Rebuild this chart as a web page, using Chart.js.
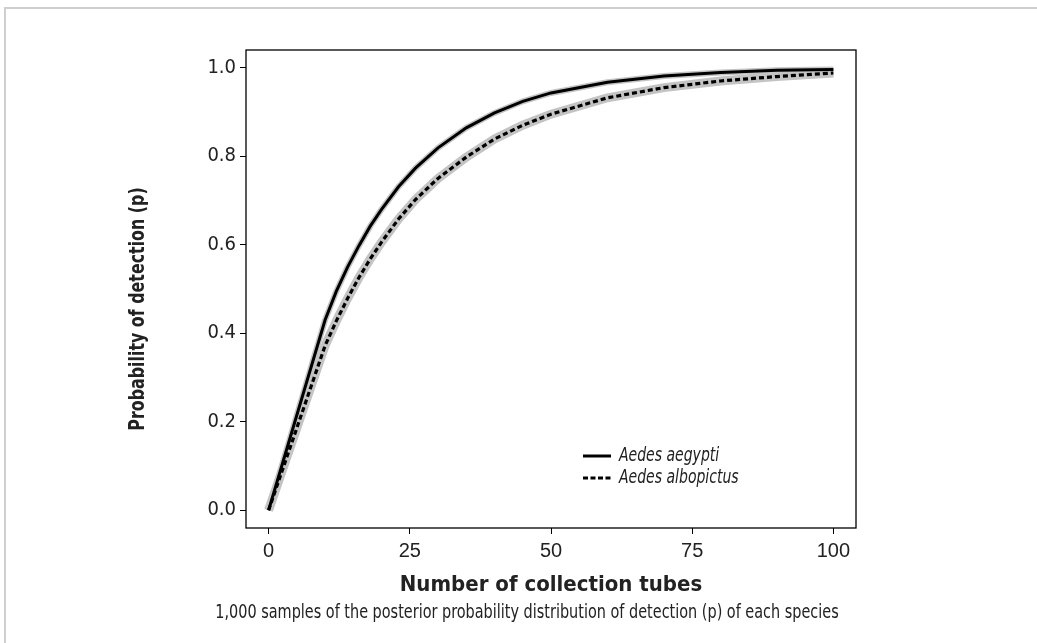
<!DOCTYPE html>
<html>
<head>
<meta charset="utf-8">
<script src="https://cdn.jsdelivr.net/npm/chart.js@4.4.0/dist/chart.umd.min.js"></script>
<style>
  html, body { margin: 0; padding: 0; background: #fff; }
  #wrap { position: relative; width: 1037px; height: 643px; overflow: hidden; }
  #frame { position: absolute; left: 4px; top: 7px; right: -10px; bottom: -10px;
           border-left: 2px solid #cfcfcf; border-top: 2px solid #cfcfcf; }
  canvas { position: absolute; left: 0; top: 0; }
</style>
</head>
<body>
<div id="wrap">
  <div id="frame"></div>
  <canvas id="my-chart" width="1037" height="643"></canvas>
</div>
<script>
// values
const tubes      = [0, 10, 12, 14, 16, 18, 20, 23, 26, 30, 35, 40, 45, 50, 60, 70, 80, 90, 100];
const aegypti    = [0, 0.430, 0.495, 0.550, 0.598, 0.642, 0.680, 0.731, 0.773, 0.819, 0.864, 0.898, 0.924, 0.943, 0.967, 0.981, 0.989, 0.994, 0.996];
const albopictus = [0, 0.372, 0.428, 0.479, 0.526, 0.568, 0.606, 0.658, 0.702, 0.750, 0.798, 0.839, 0.870, 0.895, 0.932, 0.955, 0.970, 0.980, 0.988];

const xTicks = [0, 25, 50, 75, 100];
const yTicks = [0, 0.2, 0.4, 0.6, 0.8, 1.0];
const seriesNames = ['Aedes aegypti', 'Aedes albopictus'];
const xTitle = 'Number of collection tubes';
const yTitle = 'Probability of detection (p)';
const caption = '1,000 samples of the posterior probability distribution of detection (p) of each species';

const narrow = '"Liberation Sans Narrow", "DejaVu Sans Condensed", sans-serif';

function toPoints(values) {
  return tubes.map((t, i) => ({ x: t, y: values[i] }));
}

// text squeezed sideways, to get close to the condensed face of the original
function squeezed(ctx, text, x, y, sx, align) {
  ctx.save();
  ctx.translate(x, y);
  ctx.scale(sx, 1);
  ctx.textAlign = align;
  ctx.fillText(text, 0, 0);
  ctx.restore();
}

// box, legend, titles and caption
const decor = {
  id: 'decor',
  afterDraw(chart) {
    const ctx = chart.ctx;
    const a = chart.chartArea;
    ctx.save();
    ctx.strokeStyle = '#000';
    ctx.lineWidth = 1.3;
    ctx.strokeRect(a.left, a.top, a.right - a.left, a.bottom - a.top);

    // legend
    ctx.lineWidth = 3;
    ctx.beginPath(); ctx.moveTo(583, 456); ctx.lineTo(611, 456); ctx.stroke();
    ctx.setLineDash([5, 2.5]);
    ctx.beginPath(); ctx.moveTo(583, 478); ctx.lineTo(611, 478); ctx.stroke();
    ctx.setLineDash([]);
    ctx.fillStyle = '#222';
    ctx.textBaseline = 'middle';
    ctx.font = 'italic 19px ' + narrow;
    squeezed(ctx, seriesNames[0], 619, 456, 0.82, 'left');
    squeezed(ctx, seriesNames[1], 619, 478, 0.82, 'left');

    // axis titles
    ctx.font = 'bold 22px ' + narrow;
    squeezed(ctx, xTitle, 551, 585, 1, 'center');
    ctx.save();
    ctx.translate(139, 309);
    ctx.rotate(-Math.PI / 2);
    ctx.font = 'bold 21px ' + narrow;
    squeezed(ctx, yTitle, 0, 0, 0.84, 'center');
    ctx.restore();

    // caption
    ctx.font = '19px ' + narrow;
    squeezed(ctx, caption, 527, 613, 0.845, 'center');
    ctx.restore();
  }
};

const ctx = document.getElementById('my-chart').getContext('2d');
const chart = new Chart(ctx, {
  type: 'line',
  data: {
    datasets: [
      { label: seriesNames[0], data: toPoints(aegypti), borderColor: '#000', borderWidth: 3, pointRadius: 0, order: 0 },
      { label: seriesNames[1], data: toPoints(albopictus), borderColor: '#000', borderWidth: 3.2,
        borderDash: [5, 3], pointRadius: 0, order: 0 },
      { data: toPoints(aegypti), borderColor: '#c4c4c4', borderWidth: 6, pointRadius: 0, order: 1 },
      { data: toPoints(albopictus), borderColor: '#c4c4c4', borderWidth: 9, pointRadius: 0, order: 1 }
    ]
  },
  options: {
    responsive: false,
    animation: false,
    devicePixelRatio: 1,
    layout: { padding: { left: 0, right: 181, top: 50, bottom: 0 } },
    elements: { line: { tension: 0, borderCapStyle: 'butt', fill: false } },
    plugins: { legend: { display: false }, tooltip: { enabled: false } },
    scales: {
      x: {
        type: 'linear', min: -4, max: 104,
        afterBuildTicks: s => { s.ticks = xTicks.map(v => ({ value: v })); },
        afterFit: s => { s.height = 115; },
        grid: { drawOnChartArea: false, drawTicks: true, tickLength: 6, color: '#000', lineWidth: 1 },
        border: { display: false },
        ticks: { font: { family: '"Liberation Sans", Arial, sans-serif', size: 20 }, color: '#222',
                 padding: 5, maxRotation: 0, autoSkip: false }
      },
      y: {
        type: 'linear', min: -0.04, max: 1.04,
        afterBuildTicks: s => { s.ticks = yTicks.map(v => ({ value: v })); },
        afterFit: s => { s.width = 246; },
        grid: { drawOnChartArea: false, drawTicks: true, tickLength: 6, color: '#000', lineWidth: 1 },
        border: { display: false },
        ticks: { font: { family: narrow, size: 20 }, color: '#222', padding: 4,
                 callback: v => v.toFixed(1) }
      }
    }
  },
  plugins: [decor]
});
</script>
</body>
</html>
